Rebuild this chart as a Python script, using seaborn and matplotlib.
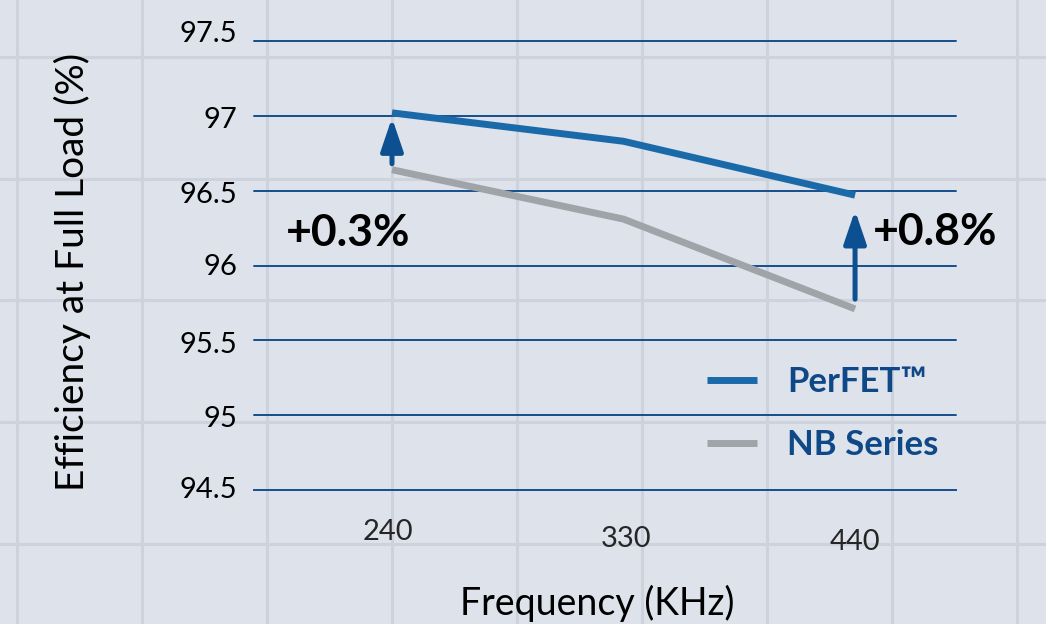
import matplotlib
matplotlib.use("Agg")
import numpy as np
import pandas as pd
import seaborn as sns
import matplotlib.pyplot as plt
from matplotlib.lines import Line2D
from matplotlib.transforms import ScaledTranslation

# ---------------- data ----------------
frequencies = ["240", "330", "440"]
perfet = [97.02, 96.83, 96.47]
nb_series = [96.64, 96.31, 95.71]
series_names = ["PerFET\u2122", "NB Series"]
gain_index = [0, 2]
gain_labels = ["+0.3%", "+0.8%"]
y_ticks = [94.5, 95, 95.5, 96, 96.5, 97, 97.5]
y_tick_labels = ["94.5", "95", "95.5", "96", "96.5", "97", "97.5"]

# ---------------- style ----------------
BG = "#dde2eb"
BG_GRID = "#cdd2dd"
BLUE = "#1a6aaa"
GREY = "#a0a4a8"
GRID_BLUE = "#164e8c"
LEGEND_BLUE = "#0f4887"
ARROW_BLUE = "#0c5091"

sns.set_style("white")
plt.rcParams["font.family"] = ["Lato", "DejaVu Sans"]

W, H = 1046, 624
fig = plt.figure(figsize=(W / 100, H / 100), dpi=100, facecolor=BG)


def shift(artist, dx, dy):
    artist.set_transform(artist.get_transform() +
                         ScaledTranslation(dx / 100, dy / 100, fig.dpi_scale_trans))


# background lattice
bg = fig.add_axes([0, 0, 1, 1], zorder=0)
bg.set_xlim(0, W)
bg.set_ylim(H, 0)
bg.axis("off")
for gx in np.arange(17, W, 125):
    bg.axvline(gx, color=BG_GRID, lw=2.2)
for gy in np.arange(57, H, 121.7):
    bg.axhline(gy, color=BG_GRID, lw=2.2)

ax = fig.add_axes([254 / W, (H - 490) / H, 702 / W, 449 / H], zorder=1)
ax.patch.set_alpha(0)

df = pd.DataFrame({
    "pos": list(range(len(frequencies))) * 2,
    "Efficiency": perfet + nb_series,
    "Series": [series_names[0]] * len(perfet) + [series_names[1]] * len(nb_series),
})
sns.lineplot(data=df, x="pos", y="Efficiency", hue="Series",
             palette=[BLUE, GREY], linewidth=5, ax=ax, legend=False,
             solid_capstyle="butt", solid_joinstyle="miter", zorder=3)

xlim = (-0.596, 2.436)
ax.set_xlim(*xlim)
ax.set_ylim(y_ticks[0], y_ticks[-1])

# grid lines
for v in y_ticks[1:]:
    ax.axhline(v, color=GRID_BLUE, lw=1.4, zorder=2, clip_on=False)

for s in ["top", "left", "right"]:
    ax.spines[s].set_visible(False)
ax.spines["bottom"].set_color(GRID_BLUE)
ax.spines["bottom"].set_linewidth(1.4)

ax.set_yticks(y_ticks)
ax.set_yticklabels(y_tick_labels)
ax.tick_params(axis="y", length=0, pad=12, labelsize=21, labelcolor="black")
y_label_offsets = [(0, 3), (0, -1), (0, -2), (0, 1), (0, -2), (0, -2), (0, 10)]
for lab, (dx, dy) in zip(ax.get_yticklabels(), y_label_offsets):
    shift(lab, dx, dy)

ax.set_xticks(range(len(frequencies)))
ax.set_xticklabels(frequencies)
ax.set_xticks(np.linspace(xlim[0], xlim[1], 4), minor=True)
ax.tick_params(axis="x", which="major", length=0, pad=26, labelsize=21)
ax.tick_params(axis="x", which="minor", direction="in", length=5,
               width=1.4, color=GRID_BLUE)
x_label_offsets = [(-4, 7), (3, 0), (0, -3)]
for lab, (dx, dy) in zip(ax.get_xticklabels(), x_label_offsets):
    shift(lab, dx, dy)

ax.set_xlabel("")
ax.set_ylabel("")
fig.text(72 / W, 1 - 272 / H, "Efficiency at Full Load (%)", rotation=90,
         ha="center", va="center", fontsize=28, color="black")
fig.text(597 / W, 1 - 603 / H, "Frequency (KHz)", ha="center", va="center",
         fontsize=27, color="black")

# arrows and gain labels
shrink_tail = [4.3, 7.0]
shrink_head = [3.6, 11.0]
text_offsets = [(-44, -63), (80, 20)]
for k, i in enumerate(gain_index):
    ax.annotate("", xy=(i, perfet[i]), xytext=(i, nb_series[i]),
                arrowprops=dict(arrowstyle="-|>,head_length=1.0,head_width=0.34",
                                mutation_scale=20, color=ARROW_BLUE, lw=3.6,
                                shrinkA=shrink_tail[k], shrinkB=shrink_head[k]),
                zorder=4)
    mid = (perfet[i] + nb_series[i]) / 2 if k == 1 else nb_series[i]
    ax.annotate(gain_labels[k], xy=(i, mid), xytext=text_offsets[k],
                textcoords="offset pixels", ha="center", va="center",
                fontsize=32, fontweight="bold", color="black", zorder=5)

handles = [Line2D([], [], color=BLUE, lw=5, solid_capstyle="butt"),
           Line2D([], [], color=GREY, lw=5, solid_capstyle="butt")]
leg = ax.legend(handles, series_names, loc="upper left",
                bbox_to_anchor=((707 - 254) / 702, (490 - 366) / 449),
                frameon=False, prop={"weight": "bold", "size": 25},
                labelcolor=LEGEND_BLUE, handlelength=1.44, handletextpad=0.86,
                borderpad=0, borderaxespad=0, labelspacing=0.9)

fig.savefig("out.png", dpi=100, facecolor=BG)
